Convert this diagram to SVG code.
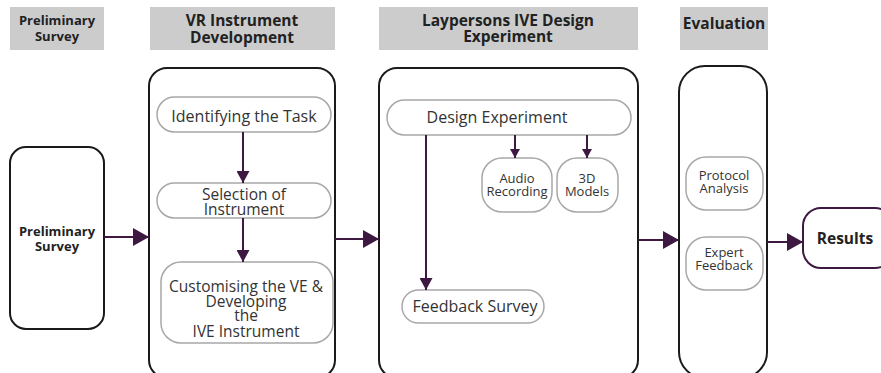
<svg xmlns="http://www.w3.org/2000/svg" width="881" height="373" viewBox="0 0 881 373">
<defs>
<style>
.hdr{fill:#cccccc}
.ht{font-family:"Open Sans","Liberation Sans",sans-serif;font-weight:bold;fill:#222;text-anchor:middle}
.big{fill:#fff;stroke:#1a1a1a;stroke-width:2}
.in{fill:#fff;stroke:#a8a8a8;stroke-width:1.5}
.t{font-family:"Open Sans","Liberation Sans",sans-serif;font-size:16px;fill:#333;text-anchor:middle}
.tm{font-family:"Open Sans","Liberation Sans",sans-serif;font-size:15.5px;fill:#333;text-anchor:middle}
.s{font-family:"Open Sans","Liberation Sans",sans-serif;font-size:13px;fill:#333;text-anchor:middle}
.c{stroke:#3d1840;stroke-width:2;fill:none}
</style>
<marker id="ah" viewBox="0 0 10 10" refX="10" refY="5" markerWidth="9" markerHeight="10" markerUnits="userSpaceOnUse" orient="auto" preserveAspectRatio="none">
<path d="M0,0 L10,5 L0,10 Z" fill="#3d1840"/>
</marker>
<marker id="ahb" viewBox="0 0 10 10" refX="10" refY="5" markerWidth="16" markerHeight="18" markerUnits="userSpaceOnUse" orient="auto" preserveAspectRatio="none">
<path d="M0,0 L10,5 L0,10 Z" fill="#3d1840"/>
</marker>
<marker id="ahs" viewBox="0 0 10 10" refX="10" refY="5" markerWidth="12" markerHeight="13" markerUnits="userSpaceOnUse" orient="auto" preserveAspectRatio="none">
<path d="M0,0 L10,5 L0,10 Z" fill="#3d1840"/>
</marker>
</defs>
<rect width="881" height="373" fill="#fff"/>

<g id="headers">
<rect class="hdr" x="10" y="7" width="94" height="43"/>
<text class="ht" font-size="13" x="57" y="25">Preliminary</text>
<text class="ht" font-size="13" x="57" y="41">Survey</text>
<rect class="hdr" x="150" y="7" width="185" height="43"/>
<text class="ht" font-size="15.5" x="242" y="26">VR Instrument</text>
<text class="ht" font-size="15.5" x="242" y="43">Development</text>
<rect class="hdr" x="379" y="7" width="259" height="43"/>
<text class="ht" font-size="15.5" x="508" y="26">Laypersons IVE Design</text>
<text class="ht" font-size="15.5" x="508" y="42">Experiment</text>
<rect class="hdr" x="680" y="7" width="88" height="43"/>
<text class="ht" font-size="15.5" x="724" y="29">Evaluation</text>
</g>

<g id="prelim">
<rect class="big" x="10" y="147" width="94" height="182" rx="16"/>
<text class="ht" font-size="13" x="57" y="236">Preliminary</text>
<text class="ht" font-size="13" x="57" y="251">Survey</text>
</g>

<g id="vr">
<rect class="big" x="149" y="68" width="186" height="310" rx="18"/>
</g>
<g id="identify">
<rect class="in" x="157" y="97" width="174" height="35" rx="17.5"/>
<text class="t" x="244" y="122">Identifying the Task</text>
</g>
<g id="selection">
<rect class="in" x="157" y="183" width="174" height="35" rx="17.5"/>
<text class="tm" x="244" y="200">Selection of</text>
<text class="tm" x="244" y="215">Instrument</text>
</g>
<g id="customising">
<rect class="in" x="161" y="262" width="172" height="81" rx="20"/>
<text class="tm" x="246" y="292">Customising the VE &amp;</text>
<text class="tm" x="246" y="307">Developing</text>
<text class="tm" x="246" y="321">the</text>
<text class="tm" x="246" y="337">IVE Instrument</text>
</g>

<g id="layperson">
<rect class="big" x="379" y="68" width="259" height="310" rx="18"/>
</g>
<g id="design">
<rect class="in" x="387" y="100" width="244" height="35" rx="17.5"/>
<text class="t" x="497" y="123">Design Experiment</text>
</g>
<g id="audio">
<rect class="in" x="482" y="158" width="70" height="54" rx="20"/>
<text class="s" x="517" y="183">Audio</text>
<text class="s" x="517" y="196">Recording</text>
</g>
<g id="models">
<rect class="in" x="557" y="158" width="61" height="54" rx="20"/>
<text class="s" x="587" y="183">3D</text>
<text class="s" x="587" y="196">Models</text>
</g>
<g id="feedback">
<rect class="in" x="402" y="290" width="142" height="33" rx="16.5"/>
<text class="t" x="475" y="312">Feedback Survey</text>
</g>

<g id="evaluation">
<rect class="big" x="679" y="66" width="88" height="312" rx="26"/>
</g>
<g id="protocol">
<rect class="in" x="686" y="157" width="77" height="53" rx="20"/>
<text class="s" x="724" y="180">Protocol</text>
<text class="s" x="724" y="193">Analysis</text>
</g>
<g id="expert">
<rect class="in" x="686" y="237" width="77" height="53" rx="20"/>
<text class="s" x="724" y="257">Expert</text>
<text class="s" x="724" y="270">Feedback</text>
</g>

<g id="results">
<rect x="803" y="208" width="90" height="60" rx="18" fill="#fff" stroke="#3d1840" stroke-width="2"/>
<text class="ht" font-size="15.5" x="845" y="244">Results</text>
</g>

<g id="connectors">
<line class="c" x1="104" y1="237" x2="149" y2="237" marker-end="url(#ahb)"/>
<line class="c" x1="335" y1="239" x2="379" y2="239" marker-end="url(#ahb)"/>
<line class="c" x1="638" y1="240" x2="679" y2="240" marker-end="url(#ahb)"/>
<line class="c" x1="767" y1="242" x2="803" y2="242" marker-end="url(#ahb)"/>
<line class="c" x1="243" y1="132" x2="243" y2="183" marker-end="url(#ahs)"/>
<line class="c" x1="243" y1="218" x2="243" y2="262" marker-end="url(#ahs)"/>
<line class="c" x1="515" y1="135" x2="515" y2="158" marker-end="url(#ah)"/>
<line class="c" x1="587" y1="135" x2="587" y2="158" marker-end="url(#ah)"/>
<line class="c" x1="426" y1="135" x2="426" y2="290" marker-end="url(#ahs)"/>
</g>
</svg>
